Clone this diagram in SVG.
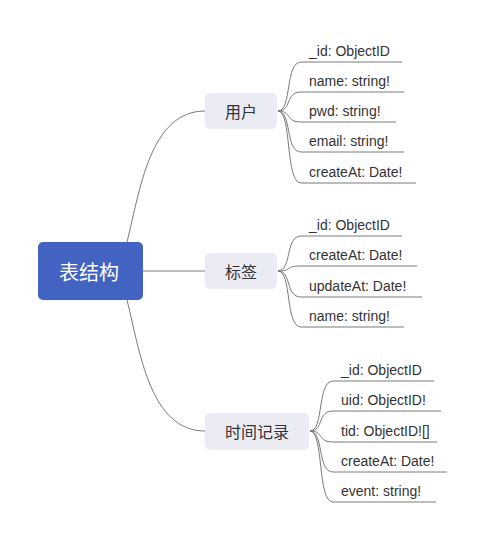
<svg xmlns="http://www.w3.org/2000/svg" width="488" height="543" viewBox="0 0 488 543">
<style>
.bg{fill:#ffffff}
.root{fill:#4263c2}
.rt{font-family:"Noto Sans CJK SC","Noto Sans",sans-serif;font-size:20px;fill:#ffffff;text-anchor:middle;dominant-baseline:central}
.node{fill:#ebebf4}
.nt{font-family:"Noto Sans CJK SC","Noto Sans",sans-serif;font-size:16px;fill:#333333;text-anchor:middle;dominant-baseline:central}
.lt{font-family:"Liberation Sans","Noto Sans",sans-serif;font-size:14px;fill:#333333}
.c{fill:none;stroke:#7a7a7a;stroke-width:1}
</style>
<rect class="bg" x="0" y="0" width="488" height="543"/>
<g id="connectors">
<path class="c" d="M127,242 C140,190 150,111 205,111"/>
<path class="c" d="M143,271 H205"/>
<path class="c" d="M127,300 C140,352 150,431 205,431"/>
<path class="c" d="M278,111 C292,111 285,62 301,62 H402"/>
<path class="c" d="M278,111 C292,111 285,92 301,92 H404"/>
<path class="c" d="M278,111 C292,111 285,122 301,122 H396"/>
<path class="c" d="M278,111 C292,111 285,152 301,152 H404"/>
<path class="c" d="M278,111 C292,111 285,183 301,183 H416"/>
<path class="c" d="M278,271 C292,271 285,236 301,236 H402"/>
<path class="c" d="M278,271 C292,271 285,266 301,266 H417"/>
<path class="c" d="M278,271 C292,271 285,297 301,297 H422"/>
<path class="c" d="M278,271 C292,271 285,327 301,327 H404"/>
<path class="c" d="M310,431 C324,431 317,381 333,381 H434"/>
<path class="c" d="M310,431 C324,431 317,411 333,411 H441"/>
<path class="c" d="M310,431 C324,431 317,442 333,442 H437"/>
<path class="c" d="M310,431 C324,431 317,472 333,472 H447"/>
<path class="c" d="M310,431 C324,431 317,502 333,502 H436"/>
</g>
<g id="root"><rect class="root" x="38" y="242" width="105" height="58" rx="5"/><text class="rt" x="89" y="271">表结构</text></g>
<g id="user"><rect class="node" x="205" y="93" width="72" height="36" rx="5"/><text class="nt" x="241" y="111">用户</text></g>
<g id="tag"><rect class="node" x="205" y="253" width="72" height="36" rx="5"/><text class="nt" x="241" y="271">标签</text></g>
<g id="record"><rect class="node" x="205" y="413" width="104" height="37" rx="5"/><text class="nt" x="257" y="431">时间记录</text></g>
<g id="user-fields">
<text class="lt" x="309" y="56">_id: ObjectID</text>
<text class="lt" x="309" y="86">name: string!</text>
<text class="lt" x="309" y="116">pwd: string!</text>
<text class="lt" x="309" y="146">email: string!</text>
<text class="lt" x="309" y="177">createAt: Date!</text>
</g>
<g id="tag-fields">
<text class="lt" x="309" y="230">_id: ObjectID</text>
<text class="lt" x="309" y="260">createAt: Date!</text>
<text class="lt" x="309" y="291">updateAt: Date!</text>
<text class="lt" x="309" y="321">name: string!</text>
</g>
<g id="record-fields">
<text class="lt" x="341" y="375">_id: ObjectID</text>
<text class="lt" x="341" y="405">uid: ObjectID!</text>
<text class="lt" x="341" y="436">tid: ObjectID![]</text>
<text class="lt" x="341" y="466">createAt: Date!</text>
<text class="lt" x="341" y="496">event: string!</text>
</g>
</svg>
